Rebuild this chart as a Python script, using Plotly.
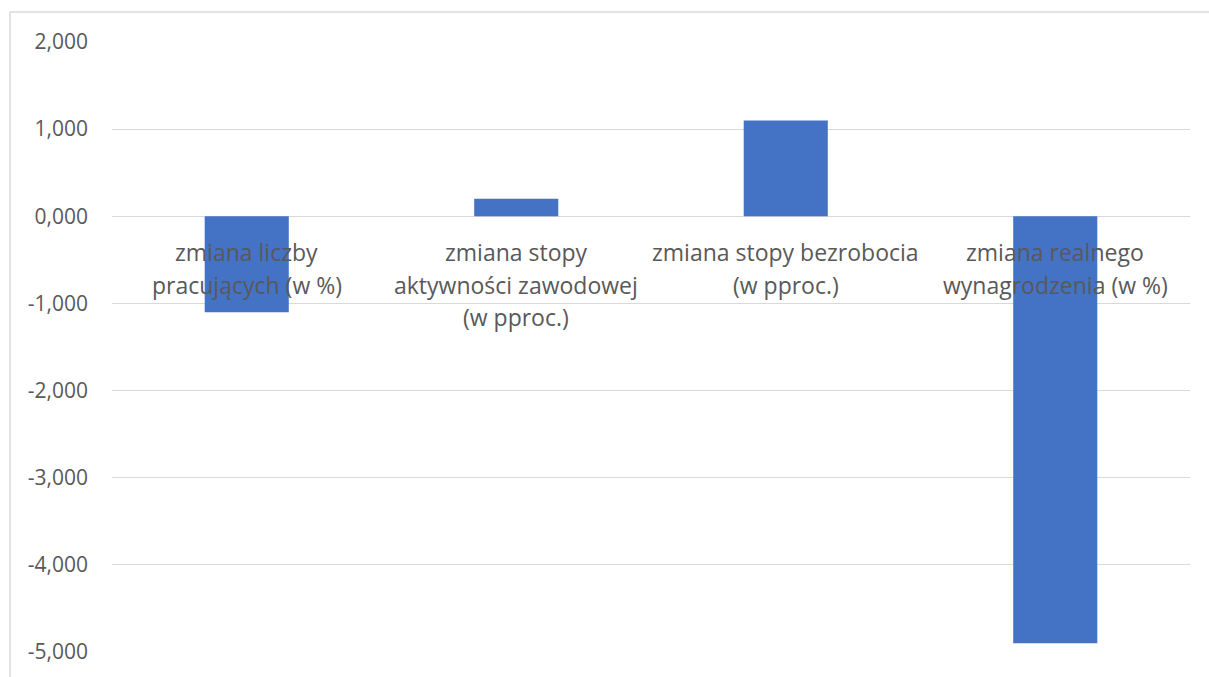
import plotly.graph_objects as go

categories = [
    "zmiana liczby\npracujących (w %)",
    "zmiana stopy\naktywności zawodowej\n(w pproc.)",
    "zmiana stopy bezrobocia\n(w pproc.)",
    "zmiana realnego\nwynagrodzenia (w %)",
]
values = [-1.1, 0.2, 1.1, -4.9]
tick_vals = [2, 1, 0, -1, -2, -3, -4, -5]
tick_text = ["2,000", "1,000", "0,000", "-1,000", "-2,000", "-3,000", "-4,000", "-5,000"]

BAR = "#4472C4"
GRID = "#D9D9D9"
TXT = "#595959"
FONT = "Open Sans"

W, H = 1209, 677
ML, MR, MT, MB = 112, 19, 42, 23
PW = W - ML - MR
PH = H - MT - MB

fig = go.Figure()
fig.add_trace(go.Bar(
    x=list(range(len(categories))), y=values,
    marker=dict(color=BAR, line=dict(width=0)),
    hoverinfo="skip",
))

annotations = []
for i, cat in enumerate(categories):
    for j, line in enumerate(cat.split("\n")):
        annotations.append(dict(
            x=i, y=0, xref="x", yref="y", text=line, showarrow=False,
            xanchor="center", yanchor="middle", yshift=-(36 + 32.5 * j),
            font=dict(family=FONT, size=23, color=TXT),
        ))

fig.update_layout(
    width=W, height=H,
    margin=dict(l=ML, r=MR, t=MT, b=MB, pad=0),
    paper_bgcolor="white", plot_bgcolor="white",
    showlegend=False,
    bargap=0.688,
    xaxis=dict(range=[-0.5, 3.5], showticklabels=False, showgrid=False,
               zeroline=False, showline=False, ticks=""),
    yaxis=dict(range=[-5, 2], tickvals=tick_vals, ticktext=tick_text,
               showgrid=True, gridcolor=GRID, gridwidth=1.3,
               zeroline=False, showline=False, ticks="",
               ticklabelstandoff=23,
               tickfont=dict(family=FONT, size=21, color=TXT)),
    annotations=annotations,
    shapes=[dict(type="rect", xref="paper", yref="paper",
                 x0=(10 - ML) / PW, x1=(W + 20 - ML) / PW,
                 y0=-(MB + 20) / PH, y1=1 + (MT - 12) / PH,
                 line=dict(color=GRID, width=1.5), fillcolor="rgba(0,0,0,0)",
                 layer="below")],
)

fig.write_html("out.html")
